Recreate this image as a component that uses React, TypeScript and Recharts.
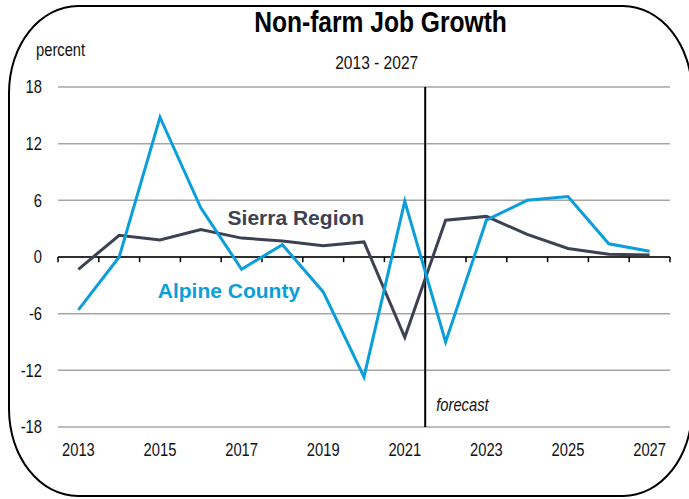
import React from "react";
import {
  LineChart,
  Line,
  XAxis,
  YAxis,
  CartesianGrid,
  ReferenceLine,
  ReferenceDot,
} from "recharts";

const years = [2013, 2014, 2015, 2016, 2017, 2018, 2019, 2020, 2021, 2022, 2023, 2024, 2025, 2026, 2027];
const alpineCounty = [-5.6, 0.0, 14.8, 5.2, -1.3, 1.3, -3.7, -12.7, 5.9, -9.0, 3.9, 6.0, 6.4, 1.4, 0.6];
const sierraRegion = [-1.3, 2.3, 1.8, 2.9, 2.0, 1.7, 1.2, 1.6, -8.5, 3.9, 4.3, 2.4, 0.9, 0.3, 0.2];
const xTickLabels = [2013, 2015, 2017, 2019, 2021, 2023, 2025, 2027];
const yTicks = [-18, -12, -6, 0, 6, 12, 18];
const categoryBoundaries = [2012.5, 2013.5, 2014.5, 2015.5, 2016.5, 2017.5, 2018.5, 2019.5, 2020.5, 2021.5, 2022.5, 2023.5, 2024.5, 2025.5, 2026.5, 2027.5];
const forecastStart = 2021.5;

const data = years.map((y, i) => ({ year: y, alpine: alpineCounty[i], sierra: sierraRegion[i] }));

const SANS = "'Liberation Sans', Arial, sans-serif";
const BLUE = "#0a9edb";
const DARK = "#3c4252";
const SQUEEZE = 0.82;

function NarrowText(props: {
  x: number;
  y: number;
  anchor?: "start" | "middle" | "end";
  size: number;
  weight?: number;
  italic?: boolean;
  dy?: string;
  fill?: string;
  children: React.ReactNode;
}) {
  const { x, y, anchor = "start", size, weight = 400, italic, dy, fill = "#111", children } = props;
  return (
    <g transform={`translate(${x},${y}) scale(${SQUEEZE},1)`}>
      <text
        x={0}
        y={0}
        dy={dy}
        textAnchor={anchor}
        fontFamily={SANS}
        fontSize={size}
        fontWeight={weight}
        fontStyle={italic ? "italic" : "normal"}
        fill={fill}
      >
        {children}
      </text>
    </g>
  );
}

const XTick = (props: any) => (
  <NarrowText x={props.x} y={props.y} anchor="middle" size={18} dy="0.71em">
    {props.payload.value}
  </NarrowText>
);

const YTick = (props: any) => (
  <NarrowText x={props.x} y={props.y} anchor="end" size={18} dy="0.355em">
    {props.payload.value}
  </NarrowText>
);

export default function App() {
  return (
    <div style={{ position: "absolute", left: 0, top: 0, width: 689, height: 499, overflow: "hidden", background: "#fff" }}>
      <div
        style={{
          position: "absolute",
          left: 8,
          top: 5,
          width: 685,
          height: 492,
          boxSizing: "border-box",
          border: "2px solid #000",
          borderRadius: "70px / 88px",
        }}
      />
      <LineChart
        width={689}
        height={499}
        data={data}
        margin={{ top: 87, right: 19, bottom: 40, left: 0 }}
        style={{ position: "absolute", left: 0, top: 0 }}
      >
        <CartesianGrid vertical={false} stroke="#a6a6a6" strokeWidth={1.5} />
        <XAxis
          dataKey="year"
          type="number"
          domain={[2012.5, 2027.5]}
          ticks={xTickLabels}
          axisLine={false}
          tickLine={false}
          tickMargin={10}
          height={32}
          tick={<XTick />}
        />
        <YAxis
          domain={[-18, 18]}
          ticks={yTicks}
          width={58}
          axisLine={false}
          tickLine={false}
          tickMargin={10}
          tick={<YTick />}
        />
        <ReferenceLine y={0} stroke="#000" strokeWidth={1.5} />
        {categoryBoundaries.map((b) => (
          <ReferenceLine
            key={b}
            segment={[
              { x: b, y: 0 },
              { x: b, y: -0.55 },
            ]}
            stroke="#000"
            strokeWidth={1.5}
          />
        ))}
        <ReferenceLine
          x={forecastStart}
          stroke="#000"
          strokeWidth={2}
          label={(props: any) => {
            const vb = props.viewBox || {};
            return (
              <NarrowText x={vb.x + 11} y={vb.y + vb.height - 16} size={18} italic>
                forecast
              </NarrowText>
            );
          }}
        />
        <Line dataKey="sierra" stroke={DARK} strokeWidth={3} dot={false} isAnimationActive={false} />
        <Line dataKey="alpine" stroke={BLUE} strokeWidth={3} dot={false} isAnimationActive={false} />
        <ReferenceDot
          x={2018.33}
          y={4.2}
          r={0}
          fill="none"
          stroke="none"
          label={{ value: "Sierra Region", position: "center", fill: DARK, fontSize: 21, fontWeight: 700, fontFamily: SANS }}
        />
        <ReferenceDot
          x={2016.69}
          y={-3.6}
          r={0}
          fill="none"
          stroke="none"
          label={{ value: "Alpine County", position: "center", fill: BLUE, fontSize: 21, fontWeight: 700, fontFamily: SANS }}
        />
      </LineChart>
      <svg width={689} height={499} style={{ position: "absolute", left: 0, top: 0, pointerEvents: "none" }}>
        <NarrowText x={380.5} y={32} anchor="middle" size={30} weight={700} fill="#000">
          Non-farm Job Growth
        </NarrowText>
        <NarrowText x={376.7} y={69} anchor="middle" size={19}>
          2013 - 2027
        </NarrowText>
        <NarrowText x={36} y={56} size={18}>
          percent
        </NarrowText>
      </svg>
    </div>
  );
}
